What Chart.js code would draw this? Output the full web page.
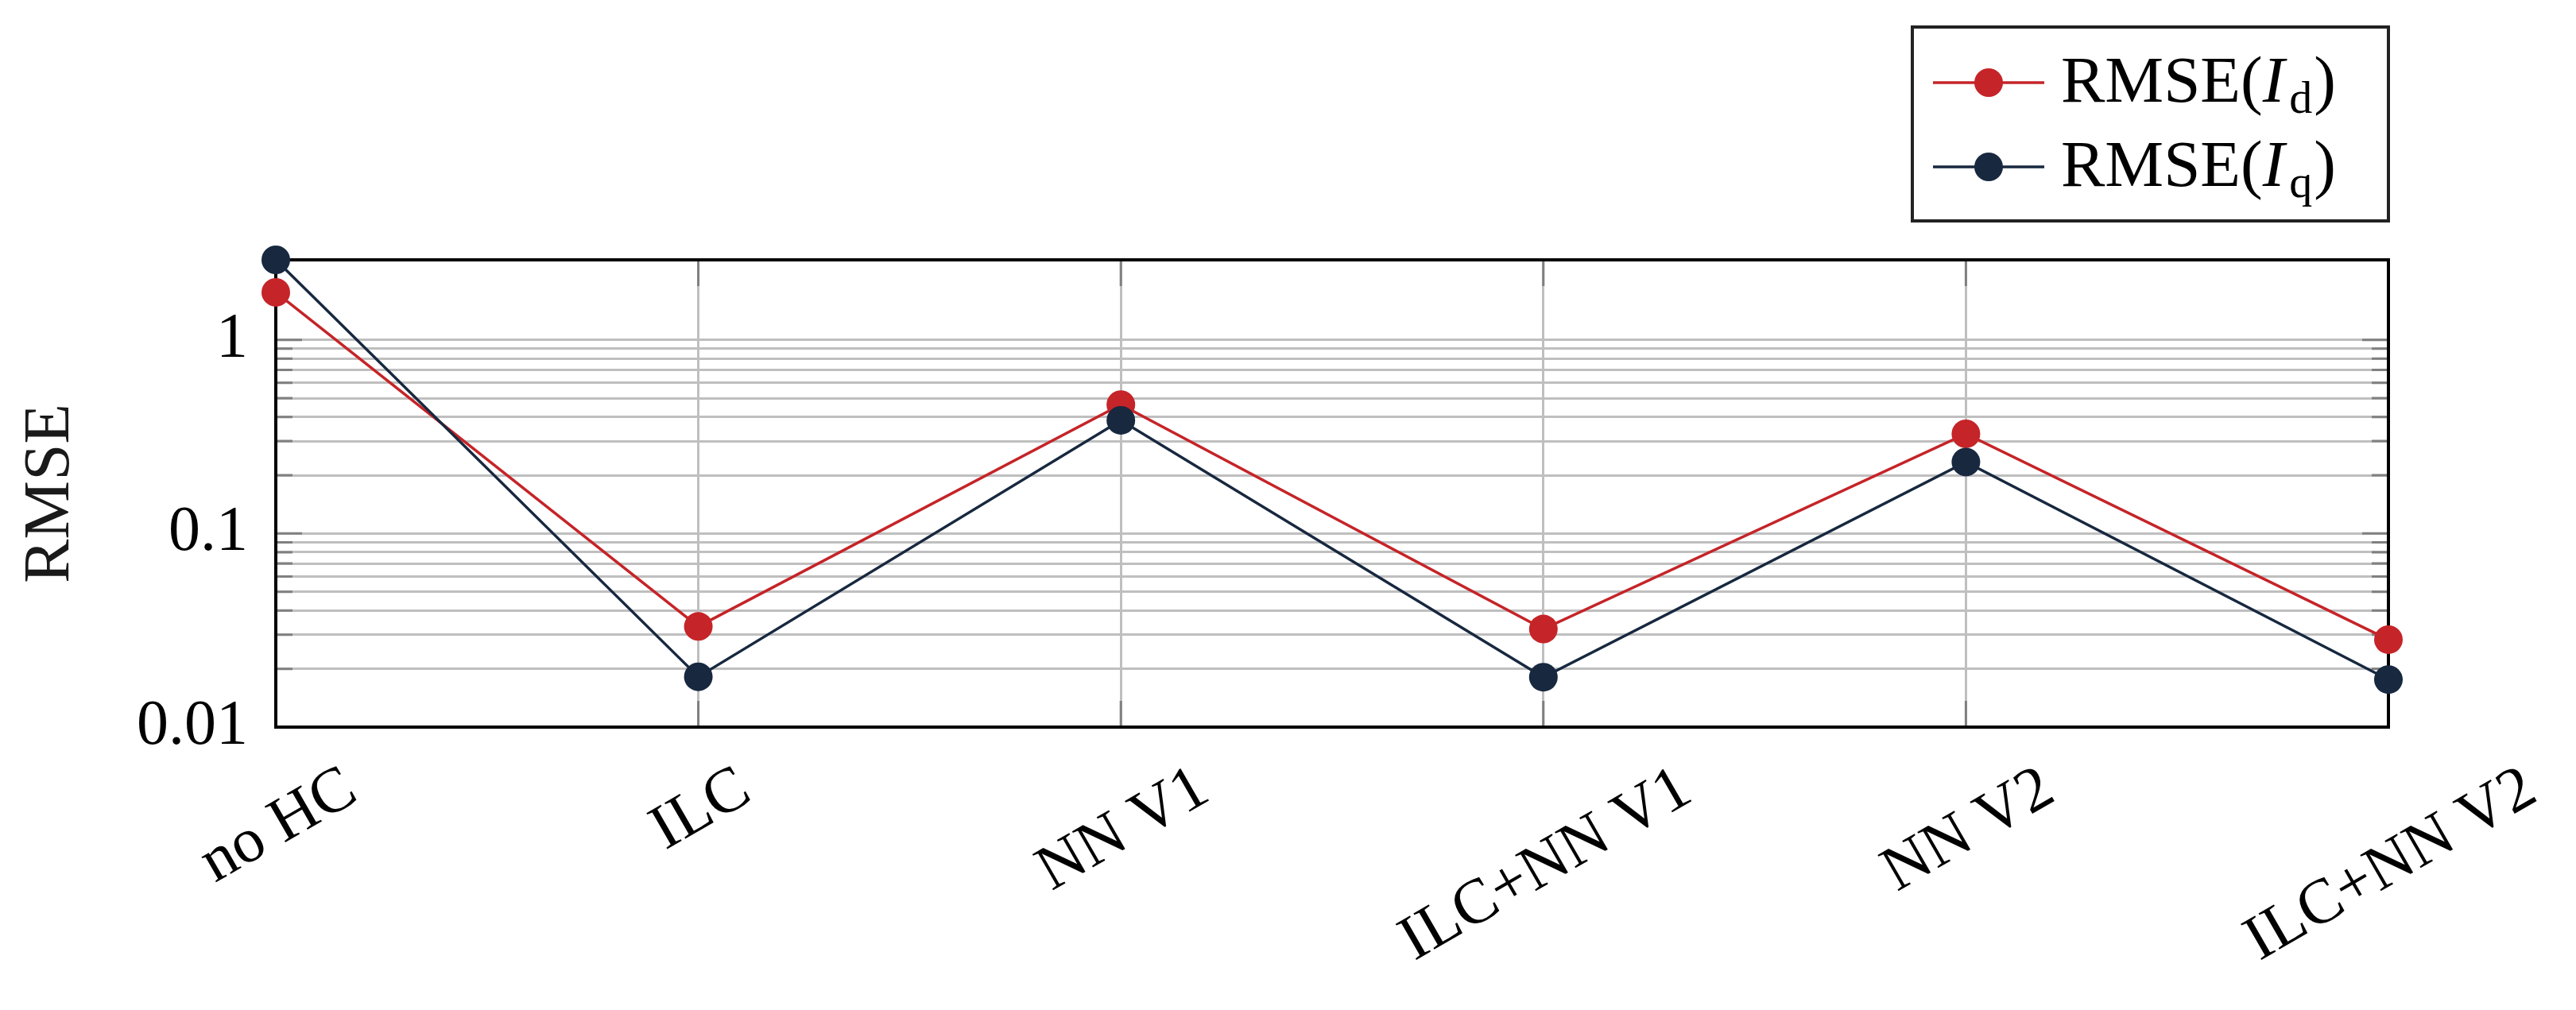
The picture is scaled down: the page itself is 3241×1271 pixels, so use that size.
<!DOCTYPE html>
<html><head><meta charset="utf-8">
<script src="https://cdn.jsdelivr.net/npm/chart.js@4.4.1/dist/chart.umd.min.js"></script>
<style>html,body{margin:0;padding:0;background:#fff;overflow:hidden;} #wrap{width:3241px;height:1271px;}</style>
</head><body><div id="wrap"><canvas id="c" width="3241" height="1271"></canvas></div>
<script>
// ---- data ----
const categories = ['no HC', 'ILC', 'NN V1', 'ILC+NN V1', 'NN V2', 'ILC+NN V2'];
const rmseId = [1.76, 0.0331, 0.463, 0.0321, 0.327, 0.0283];
const rmseIq = [2.59, 0.0182, 0.384, 0.0181, 0.234, 0.0176];
const yMajorTicks = [0.01, 0.1, 1];
const yTickLabels = ['0.01', '0.1', '1'];
const yMinorTicks = [0.02, 0.03, 0.04, 0.05, 0.06, 0.07, 0.08, 0.09, 0.2, 0.3, 0.4, 0.5, 0.6, 0.7, 0.8, 0.9];
const yTitle = 'RMSE';
const legendParts = [
  [['RMSE(', 'n'], ['I', 'i'], ['d', 's'], [')', 'n']],
  [['RMSE(', 'n'], ['I', 'i'], ['q', 's'], [')', 'n']]
];

const RED = '#c52428';
const NAVY = '#17283f';
const FONT = "'Liberation Serif', 'Times New Roman', serif";
const allYTicks = yMajorTicks.concat(yMinorTicks).sort((a, b) => a - b);

const framePlugin = {
  id: 'frame',
  beforeDatasetsDraw(chart) {
    const {ctx, chartArea: {left, right, top, bottom}, scales: {x, y}} = chart;
    ctx.save();
    ctx.strokeStyle = '#808080';
    ctx.lineWidth = 3;
    ctx.beginPath();
    allYTicks.forEach(v => {
      const py = y.getPixelForValue(v);
      const len = yMajorTicks.includes(v) ? 33 : 21;
      ctx.moveTo(left, py); ctx.lineTo(left + len, py);
      ctx.moveTo(right, py); ctx.lineTo(right - len, py);
    });
    categories.forEach((c, i) => {
      const px = x.getPixelForValue(i);
      ctx.moveTo(px, top); ctx.lineTo(px, top + 33);
      ctx.moveTo(px, bottom); ctx.lineTo(px, bottom - 33);
    });
    ctx.stroke();
    ctx.strokeStyle = '#000';
    ctx.lineWidth = 4;
    ctx.strokeRect(left, top, right - left, bottom - top);
    ctx.restore();
  },
  afterDraw(chart) {
    const {ctx, chartArea: {bottom}, scales: {x}} = chart;
    ctx.save();
    ctx.font = '80px ' + FONT;
    ctx.fillStyle = '#000';
    const th = -30 * Math.PI / 180;
    const cos = Math.cos(th), sin = Math.sin(th);
    categories.forEach((label, i) => {
      const px = x.getPixelForValue(i);
      const m = ctx.measureText(label);
      const corners = [
        [-m.actualBoundingBoxLeft, -m.actualBoundingBoxAscent],
        [m.actualBoundingBoxRight, -m.actualBoundingBoxAscent],
        [-m.actualBoundingBoxLeft, m.actualBoundingBoxDescent],
        [m.actualBoundingBoxRight, m.actualBoundingBoxDescent]
      ].map(([a, b]) => [a * cos - b * sin, a * sin + b * cos]);
      const xs = corners.map(p => p[0]), ys = corners.map(p => p[1]);
      const minX = Math.min(...xs), maxX = Math.max(...xs), minY = Math.min(...ys);
      const ox = px - (minX + maxX) / 2;
      const oy = bottom + 46 - minY;
      ctx.save();
      ctx.translate(ox, oy);
      ctx.rotate(th);
      ctx.textAlign = 'left';
      ctx.textBaseline = 'alphabetic';
      ctx.fillText(label, 0, 0);
      ctx.restore();
    });
    // legend
    const bx = 2406, by = 34, bw = 599, bh = 244;
    ctx.fillStyle = '#fff';
    ctx.fillRect(bx, by, bw, bh);
    ctx.strokeStyle = '#222';
    ctx.lineWidth = 4;
    ctx.strokeRect(bx, by, bw, bh);
    const colors = [RED, NAVY];
    const rowY = [104, 210];
    legendParts.forEach((parts, r) => {
      const cy = rowY[r];
      ctx.strokeStyle = colors[r];
      ctx.lineWidth = 3.5;
      ctx.beginPath(); ctx.moveTo(2432, cy); ctx.lineTo(2572, cy); ctx.stroke();
      ctx.fillStyle = colors[r];
      ctx.beginPath(); ctx.arc(2502, cy, 18, 0, Math.PI * 2); ctx.fill();
      ctx.fillStyle = '#000';
      ctx.textAlign = 'left';
      ctx.textBaseline = 'alphabetic';
      let tx = 2593;
      const base = cy + 24;
      parts.forEach(([t, s]) => {
        if (s === 'n') { ctx.font = '83px ' + FONT; ctx.fillText(t, tx, base); }
        else if (s === 'i') { ctx.font = 'italic 83px ' + FONT; ctx.fillText(t, tx, base); }
        else { ctx.font = '58px ' + FONT; ctx.fillText(t, tx + 2, base + 14); }
        tx += ctx.measureText(t).width + (s === 'i' ? 4 : (s === 's' ? 4 : 0));
      });
    });
    ctx.restore();
  }
};

new Chart(document.getElementById('c'), {
  type: 'line',
  data: {
    labels: categories,
    datasets: [
      { label: 'RMSE(Id)', data: rmseId, borderColor: RED, backgroundColor: RED, pointBackgroundColor: RED,
        borderWidth: 3.5, pointRadius: 18, pointBorderWidth: 0, pointHoverRadius: 18, clip: false, order: 2, tension: 0 },
      { label: 'RMSE(Iq)', data: rmseIq, borderColor: NAVY, backgroundColor: NAVY, pointBackgroundColor: NAVY,
        borderWidth: 3.5, pointRadius: 18, pointBorderWidth: 0, pointHoverRadius: 18, clip: false, order: 1, tension: 0 }
    ]
  },
  options: {
    responsive: false, animation: false, devicePixelRatio: 1,
    layout: { padding: { top: 327, right: 236, left: 0, bottom: 0 } },
    plugins: { legend: { display: false }, tooltip: { enabled: false } },
    events: [],
    scales: {
      x: {
        type: 'category', offset: false,
        grid: { color: '#bfbfbf', lineWidth: 3, drawTicks: false },
        border: { display: false },
        ticks: { display: false },
        afterFit(s) { s.height = 356; }
      },
      y: {
        type: 'logarithmic',
        min: 0.01, max: Math.max(...rmseIq),
        afterBuildTicks(s) { s.ticks = allYTicks.map(v => ({ value: v })); },
        grid: { color: '#bfbfbf', lineWidth: 3, drawTicks: false },
        border: { display: false },
        ticks: {
          autoSkip: false, padding: 35, color: '#000',
          font: { family: FONT, size: 80 },
          callback(v) { const k = yMajorTicks.indexOf(v); return k >= 0 ? yTickLabels[k] : ''; }
        },
        title: { display: true, text: yTitle, color: '#1a1a1a', font: { family: FONT, size: 83 }, padding: { top: 14, bottom: 0 } },
        afterFit(s) { s.width = 347; }
      }
    }
  },
  plugins: [framePlugin]
});
</script>
</body></html>
